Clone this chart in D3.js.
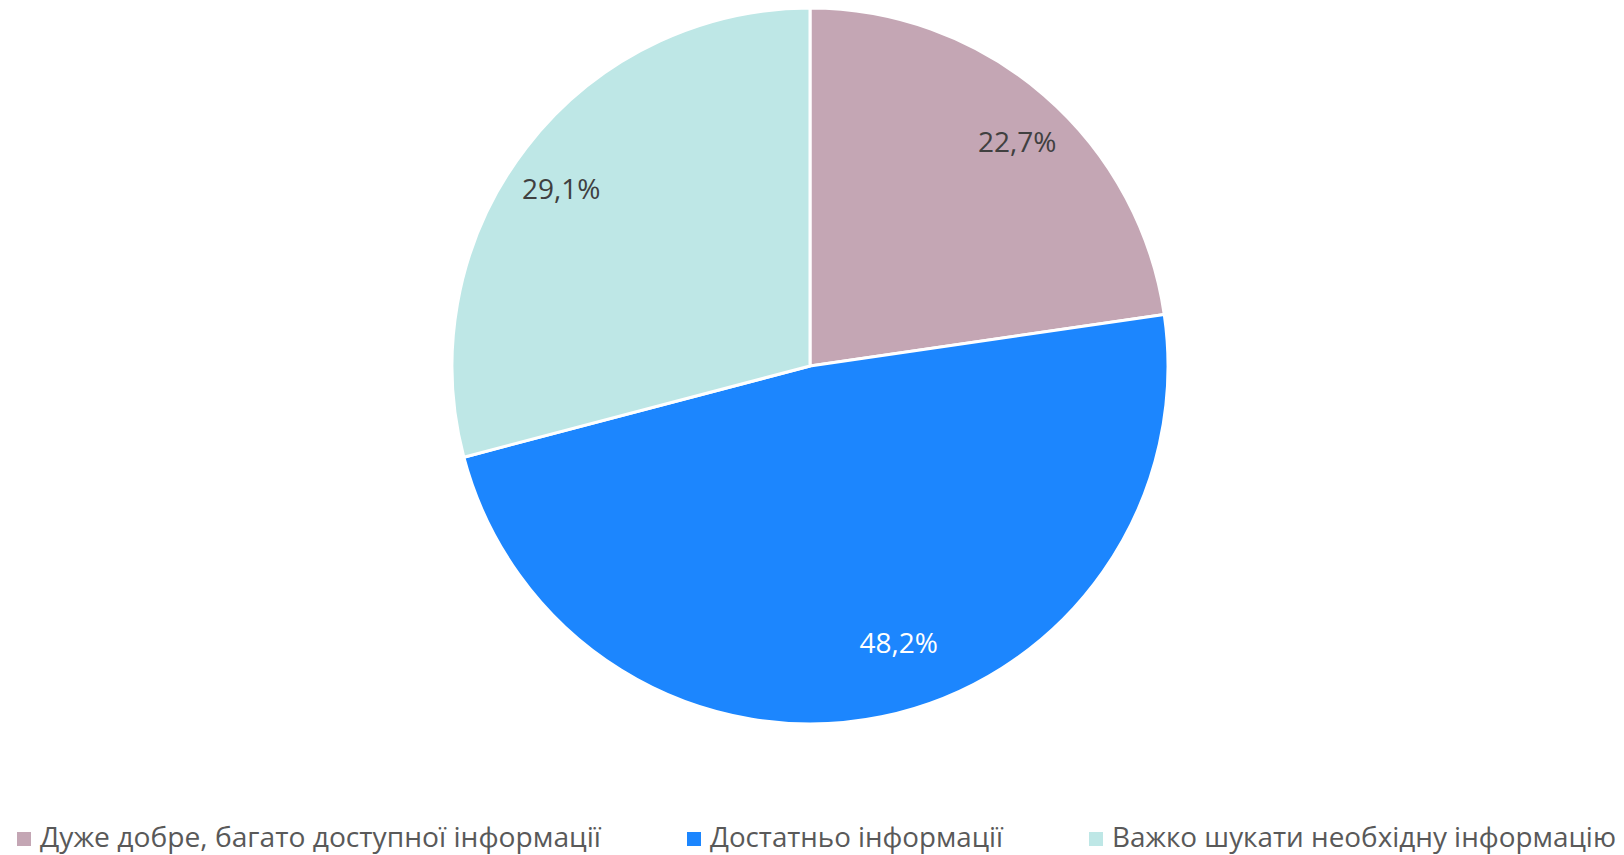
<!DOCTYPE html>
<html><head><meta charset="utf-8">
<script src="https://cdn.jsdelivr.net/npm/d3@7"></script>
<style>html,body{margin:0;padding:0;background:#fff;}svg{display:block;}</style>
</head><body>
<svg id="chart" width="1624" height="855"></svg>
<script>
const categories = ["Дуже добре, багато доступної інформації", "Достатньо інформації", "Важко шукати необхідну інформацію"];
const values = [22.7, 48.2, 29.1];
const labels = ["22,7%", "48,2%", "29,1%"];
const colors = ["#C4A6B4", "#1C86FE", "#BEE7E6"];
const labelColors = ["#404040", "#FFFFFF", "#404040"];

const svg = d3.select("#chart");
const cx = 810, cy = 366, R = 358;
const font = "'Open Sans', sans-serif";

const pie = d3.pie().sort(null).value(d => d)(values);
const arc = d3.arc().innerRadius(0).outerRadius(R);
const labelArc = d3.arc().innerRadius(R * 0.84).outerRadius(R * 0.84);
// small angular nudges to mimic the original label placement
const labelNudge = [0.03, -0.11, -0.035];

const g = svg.append("g").attr("transform", `translate(${cx},${cy})`);
g.selectAll("path").data(pie).join("path")
  .attr("d", arc).attr("fill", (d, i) => colors[i])
  .attr("stroke", "#fff").attr("stroke-width", 3).attr("stroke-linejoin", "round");

g.selectAll("text.lbl").data(pie).join("text").attr("class", "lbl")
  .attr("transform", (d, i) => {
    const a = (d.startAngle + d.endAngle) / 2 + labelNudge[i];
    const r = i === 1 ? R * 0.81 : R * 0.855;
    return `translate(${Math.sin(a) * r},${-Math.cos(a) * r})`;
  })
  .attr("text-anchor", "middle").attr("dominant-baseline", "central")
  .attr("font-family", font).attr("font-size", 28)
  .attr("fill", (d, i) => labelColors[i])
  .text((d, i) => labels[i]);

const legendX = [17, 687, 1089];
const legendW = [561, 293, 504];
const leg = svg.append("g");
const items = leg.selectAll("g").data(categories).join("g")
  .attr("transform", (d, i) => `translate(${legendX[i]},0)`);
items.append("rect").attr("x", 0).attr("y", 832).attr("width", 14).attr("height", 14)
  .attr("fill", (d, i) => colors[i]);
items.append("text").attr("x", 23).attr("y", 847)
  .attr("font-family", font).attr("font-size", 28).attr("fill", "#595959")
  .attr("textLength", (d, i) => legendW[i]).attr("lengthAdjust", "spacingAndGlyphs")
  .text(d => d);
</script>
</body></html>
